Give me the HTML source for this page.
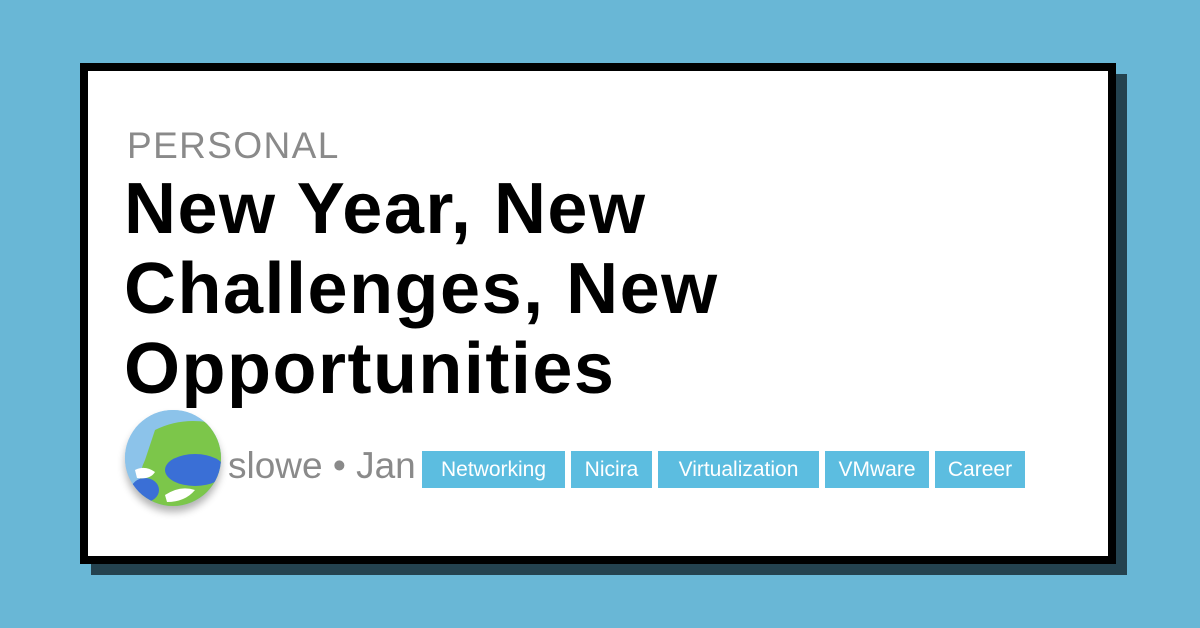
<!DOCTYPE html>
<html><head><meta charset="utf-8"><style>
body{margin:0;width:1200px;height:628px;background:#69b7d6;position:relative;overflow:hidden;font-family:"Liberation Sans",sans-serif}
.sh{position:absolute;left:91px;top:74px;width:1036px;height:501px;background:#24424f}
.card{position:absolute;left:80px;top:63px;width:1020px;height:485px;background:#fff;border:8px solid #000}
.cat{position:absolute;left:127px;top:125px;font-size:37px;color:#8a8a8a;letter-spacing:1.4px}
.title{position:absolute;left:124px;top:169px;font-size:72px;font-weight:bold;line-height:80px;color:#000;letter-spacing:1.5px}
.av{position:absolute;left:125px;top:410px;width:96px;height:96px;border-radius:50%;overflow:hidden;box-shadow:0 6px 8px rgba(0,0,0,.3);background:#8cc3ea}
.meta{position:absolute;left:228px;top:445px;font-size:37px;color:#8a8a8a;white-space:nowrap}
.tag{position:absolute;top:451px;height:37px;line-height:37px;background:#5cbde0;color:#fff;font-size:21px;text-align:center}
</style></head><body>
<div class="sh"></div>
<div class="card"></div>
<div class="cat">PERSONAL</div>
<div class="title">New Year, New<br>Challenges, New<br>Opportunities</div>
<div class="av"><svg width="96" height="96"><rect width="96" height="96" fill="#8cc3ea"/><path d="M30 20 Q60 5 96 15 L96 96 L20 96 Q10 70 20 50 Z" fill="#7cc64a"/><ellipse cx="70" cy="60" rx="30" ry="16" fill="#3a6fd6"/><ellipse cx="20" cy="80" rx="14" ry="12" fill="#3a6fd6"/><path d="M10 60 Q20 55 30 62 Q25 70 12 68Z" fill="#fff"/><path d="M40 85 Q55 75 70 80 Q60 92 42 92Z" fill="#fff"/></svg></div>
<div class="meta">slowe • Jan 5</div>
<div class="tag" style="left:422px;width:143px">Networking</div>
<div class="tag" style="left:571px;width:81px">Nicira</div>
<div class="tag" style="left:658px;width:161px">Virtualization</div>
<div class="tag" style="left:825px;width:104px">VMware</div>
<div class="tag" style="left:935px;width:90px">Career</div>
</body></html>
